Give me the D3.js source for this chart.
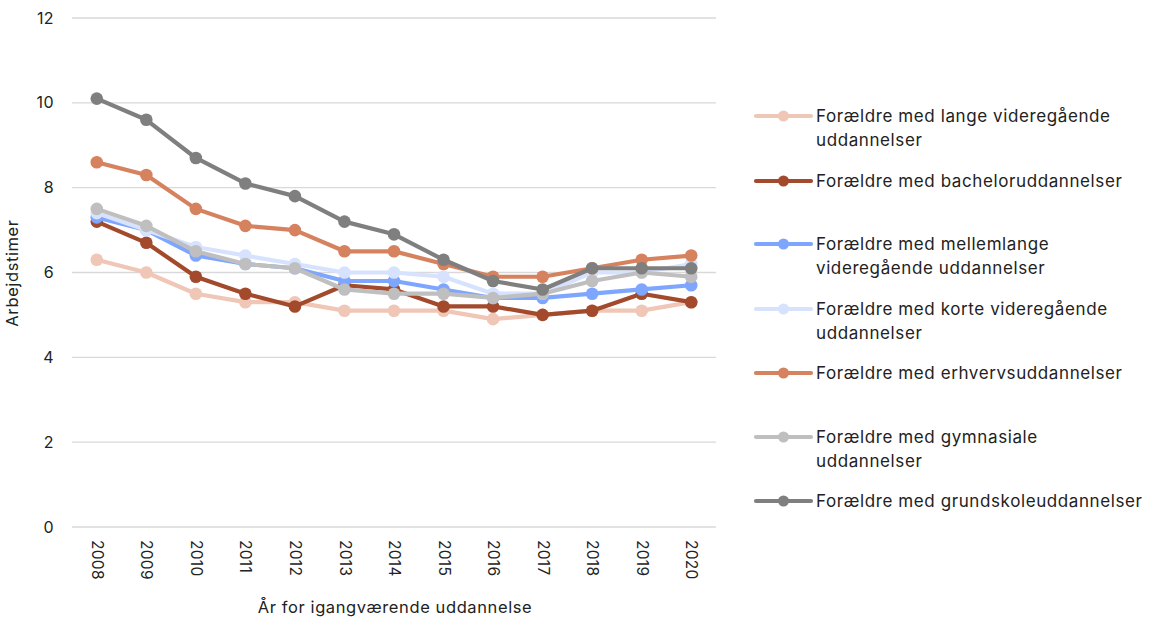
<!DOCTYPE html>
<html><head><meta charset="utf-8">
<script src="https://cdn.jsdelivr.net/npm/d3@7"></script>
<style>body{margin:0;background:#fff}svg{display:block}text{font-family:Inter,"Noto Sans",sans-serif;fill:#222}</style>
</head><body><svg id="c" width="1153" height="621"></svg>
<script>
const years = ["2008","2009","2010","2011","2012","2013","2014","2015","2016","2017","2018","2019","2020"];
const yTicks = [0,2,4,6,8,10,12];
const seriesNames = [
  ["Forældre med lange videregående","uddannelser"],
  ["Forældre med bacheloruddannelser"],
  ["Forældre med mellemlange","videregående uddannelser"],
  ["Forældre med korte videregående","uddannelser"],
  ["Forældre med erhvervsuddannelser"],
  ["Forældre med gymnasiale","uddannelser"],
  ["Forældre med grundskoleuddannelser"]
];
const colors = ["#F0C6B6","#A24A2B","#7EA6FE","#D6E2FE","#D6825F","#BFBFBF","#7F7F7F"];
const lange       = [6.3,6.0,5.5,5.3,5.3,5.1,5.1,5.1,4.9,5.0,5.1,5.1,5.3];
const bachelor    = [7.2,6.7,5.9,5.5,5.2,5.7,5.6,5.2,5.2,5.0,5.1,5.5,5.3];
const mellemlange = [7.3,7.0,6.4,6.2,6.1,5.8,5.8,5.6,5.4,5.4,5.5,5.6,5.7];
const korte       = [7.4,7.0,6.6,6.4,6.2,6.0,6.0,5.9,5.5,5.5,6.0,6.0,6.2];
const erhverv     = [8.6,8.3,7.5,7.1,7.0,6.5,6.5,6.2,5.9,5.9,6.1,6.3,6.4];
const gymnasiale  = [7.5,7.1,6.5,6.2,6.1,5.6,5.5,5.5,5.4,5.5,5.8,6.0,5.9];
const grundskole  = [10.1,9.6,8.7,8.1,7.8,7.2,6.9,6.3,5.8,5.6,6.1,6.1,6.1];
const seriesValues = [lange,bachelor,mellemlange,korte,erhverv,gymnasiale,grundskole];

const svg = d3.select("#c");
const L = 72, R = 716, T = 18, B = 527;
const x = d3.scalePoint().domain(years).range([L,R]).padding(0.5);
const y = d3.scaleLinear().domain([0,12]).range([B,T]);
const FF = "Inter,'Noto Sans',sans-serif";

svg.append("g").selectAll("line").data(yTicks).join("line")
  .attr("x1",L).attr("x2",R).attr("y1",d=>y(d)).attr("y2",d=>y(d))
  .attr("stroke","#d9d9d9").attr("stroke-width",1.3);

const ya = svg.append("g").attr("transform",`translate(${L},0)`)
  .call(d3.axisLeft(y).tickValues(yTicks).tickSize(0).tickPadding(18));
ya.select(".domain").remove();
ya.selectAll("text").style("font-size","16px").style("letter-spacing","0.4px").attr("fill","#222").style("font-family",FF);

const xa = svg.append("g").attr("transform",`translate(0,${B})`)
  .call(d3.axisBottom(x).tickSize(0));
xa.select(".domain").remove();
xa.selectAll("text").attr("transform","rotate(90)").attr("text-anchor","start")
  .attr("x",13).attr("y",0).attr("dy","0.35em")
  .style("font-size","15.5px").style("letter-spacing","0.3px").attr("fill","#222").style("font-family",FF);

svg.append("text").attr("transform","translate(18,273) rotate(-90)").attr("text-anchor","middle")
  .style("font-size","16.5px").style("letter-spacing","0.6px").text("Arbejdstimer");
svg.append("text").attr("x",395).attr("y",613).attr("text-anchor","middle")
  .style("font-size","16.5px").style("letter-spacing","0.6px").text("År for igangværende uddannelse");

const line = d3.line().x((d,i)=>x(years[i])).y(d=>y(d));
seriesValues.forEach((vals,k)=>{
  const g = svg.append("g");
  g.append("path").attr("d",line(vals)).attr("fill","none").attr("stroke",colors[k])
    .attr("stroke-width",4.2).attr("stroke-linejoin","round");
  g.selectAll("circle").data(vals).join("circle")
    .attr("cx",(d,i)=>x(years[i])).attr("cy",d=>y(d)).attr("r",6.3).attr("fill",colors[k]);
});

const legY = [116,181,244,309,373,437,501];
seriesNames.forEach((lines,k)=>{
  const g = svg.append("g").attr("transform",`translate(756,${legY[k]})`);
  g.append("line").attr("x1",0).attr("x2",55).attr("y1",0).attr("y2",0)
    .attr("stroke",colors[k]).attr("stroke-width",4.2).attr("stroke-linecap","round");
  g.append("circle").attr("cx",27.5).attr("cy",0).attr("r",5.5).attr("fill",colors[k]);
  const t = g.append("text").attr("x",60).attr("y",0).style("font-size","17px").style("letter-spacing","0.6px");
  lines.forEach((s,i)=>t.append("tspan").attr("x",60).attr("dy",i===0?"0.35em":"24px").text(s));
});
</script></body></html>
